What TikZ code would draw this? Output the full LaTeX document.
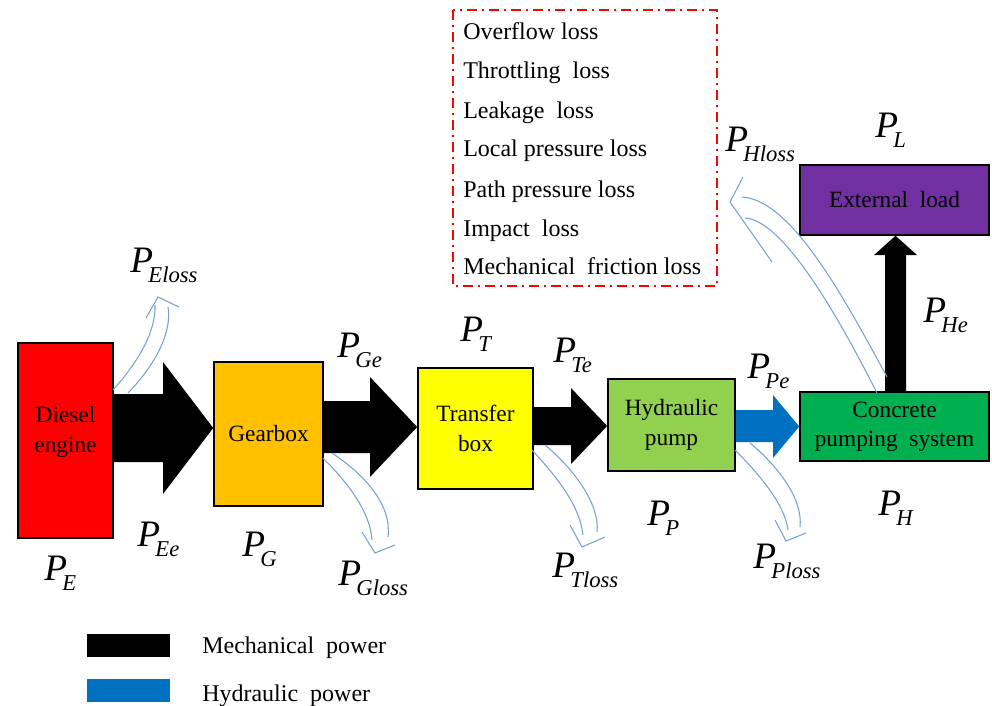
\documentclass[tikz,border=0pt]{standalone}
\usepackage{fontspec}
\setmainfont{Liberation Serif}
\usetikzlibrary{calc}
\definecolor{engred}{HTML}{FF0000}
\definecolor{gearor}{HTML}{FFC000}
\definecolor{trayel}{HTML}{FFFF00}
\definecolor{pumpgr}{HTML}{92D050}
\definecolor{concgr}{HTML}{00B050}
\definecolor{extpur}{HTML}{7030A0}
\definecolor{hydblue}{HTML}{0070C0}
\definecolor{lossblue}{RGB}{120,160,212}
\newcommand\pw[1]{\textit{P}\kern-3.5pt\raisebox{-7.5pt}{\fontsize{17}{17}\selectfont\textit{#1}}}
\tikzset{
  blk/.style={draw=black, line width=1.2pt, align=center, inner sep=0pt,
    font=\fontsize{17.5}{22}\selectfont},
  blktxt/.style={align=center, inner sep=0pt, font=\fontsize{17.5}{22}\selectfont},
  plabel/.style={anchor=base west, inner sep=0pt, font=\fontsize{28}{28}\selectfont},
  listtxt/.style={anchor=base west, inner sep=0pt, font=\fontsize{18}{18}\selectfont},
  mech/.style={fill=black},
  hyd/.style={fill=hydblue},
  loss/.style={draw=lossblue, line width=0.8pt},
}
\begin{document}
\begin{tikzpicture}[x=0.75pt,y=-0.75pt]
\useasboundingbox (0,0) rectangle (992,706);

% boxes
\node[blk, fill=engred, minimum width=71.25pt, minimum height=146.25pt] (dies) at (65.5,440.5) {};
\node[blktxt] (diestxt) at (65.5,432) {Diesel\\engine};
\node[blk, fill=gearor, minimum width=81.75pt, minimum height=108pt] (gear) at (268.5,434) {Gearbox};
\node[blk, fill=trayel, minimum width=86.25pt, minimum height=90.75pt] (tran) at (475.5,428.5) {Transfer\\box};
\node[blk, fill=pumpgr, minimum width=95.25pt, minimum height=69pt] (pump) at (671.5,425) {Hydraulic\\pump};
\node[blk, fill=concgr, minimum width=141.75pt, minimum height=51.75pt] (conc) at (894.5,426.5) {Concrete\\pumping\ \ system};
\node[blk, fill=extpur, minimum width=141.75pt, minimum height=52.5pt] (ext) at (894.5,200) {External\ \ load};

% block arrows
\fill[mech] (dies.east |- 0,394) -- (163,394) -- (163,362) -- (gear.west |- 0,428) -- (163,494) -- (163,462) -- (dies.east |- 0,462) -- cycle;
\fill[mech] (gear.east |- 0,401) -- (370,401) -- (370,377) -- (tran.west |- 0,427) -- (370,477) -- (370,453) -- (gear.east |- 0,453) -- cycle;
\fill[mech] (tran.east |- 0,407) -- (571,407) -- (571,388) -- (pump.west |- 0,426) -- (571,464) -- (571,445) -- (tran.east |- 0,445) -- cycle;
\fill[hyd] (pump.east |- 0,410) -- (773,410) -- (773,395) -- (conc.west |- 0,426.5) -- (773,458) -- (773,442) -- (pump.east |- 0,442) -- cycle;
\fill[mech] (885,0 |- conc.north) -- (885,255) -- (874,255) -- (895.5,0 |- ext.south) -- (917,255) -- (906,255) -- (906,0 |- conc.north) -- cycle;

% loss arrows
\draw[loss] (113,390) .. controls (140,360) and (156,330) .. (155,305);
\draw[loss] (128,393) .. controls (158,362) and (172,330) .. (168,307);
\draw[loss] (146,318) -- (158,297) -- (179,307);

\draw[loss] (323,458) .. controls (345,480) and (370,510) .. (372,540);
\draw[loss] (332,453) .. controls (365,475) and (392,505) .. (388,537);
\draw[loss] (362,532) -- (375,553) -- (395,545);

\draw[loss] (532,450) .. controls (555,475) and (580,505) .. (583,535);
\draw[loss] (545,445) .. controls (575,470) and (600,505) .. (597,532);
\draw[loss] (570,525) -- (582,547) -- (605,537);

\draw[loss] (735,450) .. controls (760,475) and (785,505) .. (788,530);
\draw[loss] (750,443) .. controls (780,468) and (803,500) .. (800,527);
\draw[loss] (775,520) -- (786,541) -- (806,533);

\draw[loss] (887,377) .. controls (840,290) and (790,200) .. (742,197);
\draw[loss] (877,393) .. controls (830,300) and (780,220) .. (745,218);
\draw[loss] (743,177) -- (730,202) -- (772,262);

% power labels
\node[plabel] (lEloss) at (130,272) {\pw{Eloss}};
\node[plabel] (lGe) at (337,357) {\pw{Ge}};
\node[plabel] (lT) at (460,341) {\pw{T}};
\node[plabel] (lTe) at (553,362) {\pw{Te}};
\node[plabel] (lPe) at (747,378) {\pw{Pe}};
\node[plabel] (lHloss) at (725,152) {\pw{Hloss}};
\node[plabel] (lL) at (875,138) {\pw{L}};
\node[plabel] (lHe) at (923,322) {\pw{He}};
\node[plabel] (lE) at (44,580) {\pw{E}};
\node[plabel] (lEe) at (137,546) {\pw{Ee}};
\node[plabel] (lG) at (242,556) {\pw{G}};
\node[plabel] (lGloss) at (338,585) {\pw{Gloss}};
\node[plabel] (lTloss) at (552,577) {\pw{Tloss}};
\node[plabel] (lP) at (647,525) {\pw{P}};
\node[plabel] (lPloss) at (753,568) {\pw{Ploss}};
\node[plabel] (lH) at (878,515) {\pw{H}};

% loss list
\draw[engred, line width=1.3pt, dash pattern=on 7.5pt off 3.5pt on 2pt off 3.5pt] (453,10) rectangle (717,286);
\node[listtxt] (t1) at (463,40) {Overflow loss};
\node[listtxt] (t2) at (463,79) {Throttling\ \ loss};
\node[listtxt] (t3) at (463,119) {Leakage\ \ loss};
\node[listtxt] (t4) at (463,157) {Local pressure loss};
\node[listtxt] (t5) at (463,197) {Path pressure loss};
\node[listtxt] (t6) at (463,236) {Impact\ \ loss};
\node[listtxt] (t7) at (463,274) {Mechanical\ \ friction loss};

% legend
\node[fill=black, minimum width=62.25pt, minimum height=17.25pt, inner sep=0pt] (legm) at (128.5,645.5) {};
\node[fill=hydblue, minimum width=62.25pt, minimum height=17.25pt, inner sep=0pt] (legh) at (128.5,690.5) {};
\node[listtxt] (legmt) at (202,653) {Mechanical\ \ power};
\node[listtxt] (leght) at (202,701) {Hydraulic\ \ power};
\end{tikzpicture}
\end{document}
